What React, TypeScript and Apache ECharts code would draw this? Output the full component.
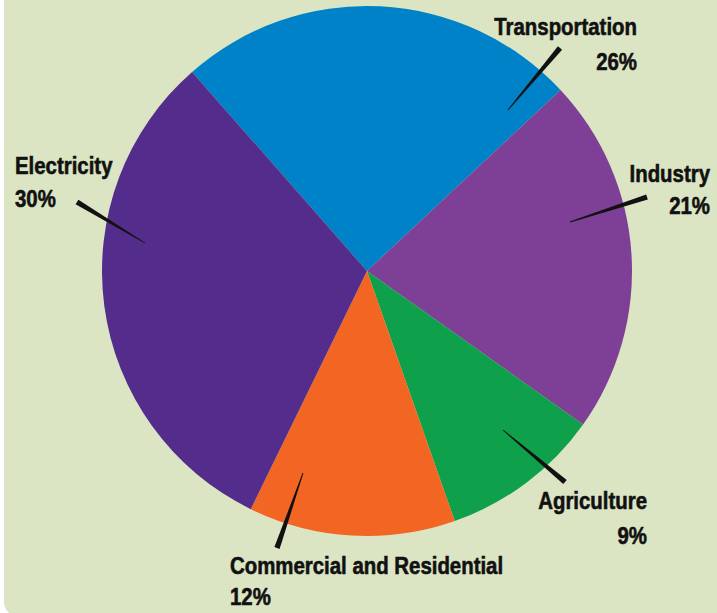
import React, { useEffect, useRef } from "react";
import * as echarts from "echarts";

// Data
const categories = ["Transportation", "Industry", "Agriculture", "Commercial and Residential", "Electricity"];
const shares = [24.5, 21.8, 9.8, 12.6, 31.3]; // slice sizes as drawn
const percentLabels = ["26%", "21%", "9%", "12%", "30%"];
const colors = ["#0082c8", "#7e3f96", "#0ea04b", "#f26522", "#542d8c"];

// Layout (label anchors and leader wedges)
const labelPos = [
  { x: 637, y1: 15, y2: 50, align: "right" },
  { x: 710, y1: 162, y2: 194, align: "right" },
  { x: 647, y1: 489, y2: 524, align: "right" },
  { x: 230, y1: 554, y2: 585, align: "left" },
  { x: 15, y1: 154, y2: 187, align: "left" },
];
const leaders = [
  [[560, 48], [508, 110]],
  [[647, 197], [570, 222]],
  [[565, 482], [503, 430]],
  [[277, 548], [303, 473]],
  [[77, 202], [145, 243]],
];

function wedge(p1: number[], p2: number[], w1: number, w2: number) {
  const dx = p2[0] - p1[0];
  const dy = p2[1] - p1[1];
  const len = Math.sqrt(dx * dx + dy * dy);
  const nx = -dy / len;
  const ny = dx / len;
  return [
    [p1[0] + (nx * w1) / 2, p1[1] + (ny * w1) / 2],
    [p2[0] + (nx * w2) / 2, p2[1] + (ny * w2) / 2],
    [p2[0] - (nx * w2) / 2, p2[1] - (ny * w2) / 2],
    [p1[0] - (nx * w1) / 2, p1[1] - (ny * w1) / 2],
  ];
}

export default function App() {
  const ref = useRef<HTMLDivElement>(null);
  useEffect(() => {
    if (!ref.current) return;
    const chart = echarts.init(ref.current, null, { renderer: "svg" });
    const font = "bold 24px 'Liberation Sans', Arial, sans-serif";
    const texts: any[] = [];
    categories.forEach((c, i) => {
      const lp = labelPos[i];
      [
        { t: c, y: lp.y1 },
        { t: percentLabels[i], y: lp.y2 },
      ].forEach((ln) => {
        texts.push({
          type: "text",
          z: 100,
          x: lp.x,
          y: ln.y,
          scaleX: 0.85,
          style: {
            text: ln.t,
            x: 0,
            y: 0,
            font,
            fill: "#111111",
            stroke: "#111111",
            lineWidth: 0.6,
            align: lp.align,
            verticalAlign: "top",
          },
        });
      });
    });
    chart.setOption({
      animation: false,
      backgroundColor: "#ffffff",
      graphic: [
        {
          type: "rect",
          z: -10,
          shape: { x: 4, y: -20, width: 740, height: 636, r: 14 },
          style: { fill: "#dbe5c3" },
        },
        ...leaders.map((l) => ({
          type: "polygon",
          z: 100,
          shape: { points: wedge(l[0], l[1], 5.5, 0.8) },
          style: { fill: "#111111" },
        })),
        ...texts,
      ],
      series: [
        {
          type: "pie",
          center: [367, 271],
          radius: [0, 265],
          startAngle: 131.3,
          clockwise: true,
          silent: true,
          data: categories.map((c, i) => ({
            name: c,
            value: shares[i],
            itemStyle: { color: colors[i] },
          })),
          itemStyle: { borderWidth: 0 },
          label: { show: false },
          labelLine: { show: false },
        },
      ],
    });
    return () => chart.dispose();
  }, []);
  return (
    <div
      ref={ref}
      style={{ position: "absolute", left: 0, top: 0, width: 717, height: 613 }}
    />
  );
}
